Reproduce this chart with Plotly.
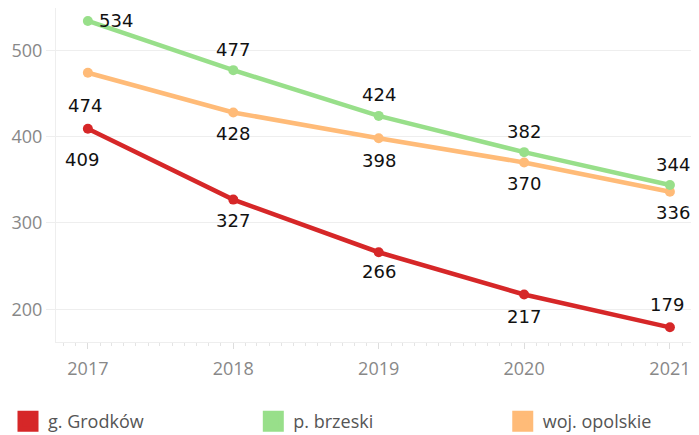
import plotly.graph_objects as go

# data
years = ["2017-01-01", "2018-01-01", "2019-01-01", "2020-01-01", "2021-01-01"]
grodkow = [409, 327, 266, 217, 179]
brzeski = [534, 477, 424, 382, 344]
opolskie = [474, 428, 398, 370, 336]

names = ["g. Grodków", "p. brzeski", "woj. opolskie"]
colors = ["#d62728", "#98df8a", "#ffbb78"]

label_font = dict(family="DejaVu Sans", size=18, color="#111")
axis_font = dict(family="Open Sans", size=18, color="#888")
legend_font = dict(family="Open Sans", size=18, color="#555")

fig = go.Figure()

# (values, colour, label y-offsets in px (negative = below), label x-offsets)
series = [
    (opolskie, colors[2], [-33, -21, -22, -21, -21], [-3, 0, 0, 0, 3]),
    (brzeski, colors[1], [0, 21, 21, 21, 20], [9, 0, 0, 0, 3]),
    (grodkow, colors[0], [-31, -21, -19, -22, 23], [-6, 0, 0, 0, -3]),
]

annotations = []
for values, color, dy, dx in series:
    fig.add_trace(go.Scatter(
        x=years, y=values,
        mode="lines+markers",
        line=dict(color=color, width=4.5),
        marker=dict(color=color, size=10),
        cliponaxis=False,
        showlegend=False,
        hoverinfo="x+y",
    ))
    for i, (x, v) in enumerate(zip(years, values)):
        annotations.append(dict(
            x=x, y=v, text=str(v), showarrow=False,
            xanchor="left" if color == colors[1] and i == 0 else "center",
            yanchor="middle",
            xshift=dx[i], yshift=dy[i],
            font=label_font,
        ))

# legend entries as coloured squares, one legend each so they sit apart
legend_ids = ["legend", "legend2", "legend3"]
for name, color, lg in zip(names, colors, legend_ids):
    fig.add_trace(go.Scatter(
        x=[None], y=[None], mode="markers", name=name, legend=lg,
        marker=dict(symbol="square", size=16, color=color,
                    line=dict(color=color, width=5)),
    ))

legend_x = [-0.006, 0.355, 0.716]
legend_layout = {}
for lg, lx in zip(legend_ids, legend_x):
    legend_layout[lg] = dict(
        orientation="h",
        xref="container", x=lx, xanchor="left",
        yref="paper", y=-0.183, yanchor="top",
        font=legend_font,
        bgcolor="rgba(0,0,0,0)",
    )

fig.update_layout(
    width=691, height=427,
    margin=dict(l=48, r=0, t=0, b=93, autoexpand=False),
    plot_bgcolor="white",
    paper_bgcolor="white",
    annotations=annotations,
    xaxis=dict(
        type="date",
        range=["2016-10-13", "2021-03-15"],
        tick0="2017-01-01", dtick="M12", tickformat="%Y",
        showgrid=False,
        showline=True, linecolor="#eee",
        ticks="outside", ticklen=6, tickcolor="#ddd",
        ticklabelstandoff=4,
        minor=dict(dtick="M1", ticks="outside", ticklen=3, tickcolor="#e4e4e4"),
        tickfont=axis_font,
    ),
    yaxis=dict(
        range=[162, 549],
        tickvals=[200, 300, 400, 500],
        showgrid=True, gridcolor="#eee",
        zeroline=False,
        showline=True, linecolor="#eee",
        ticks="outside", ticklen=9, tickcolor="#eee",
        tickfont=axis_font,
    ),
    **legend_layout,
)

fig.write_html("out.html")
